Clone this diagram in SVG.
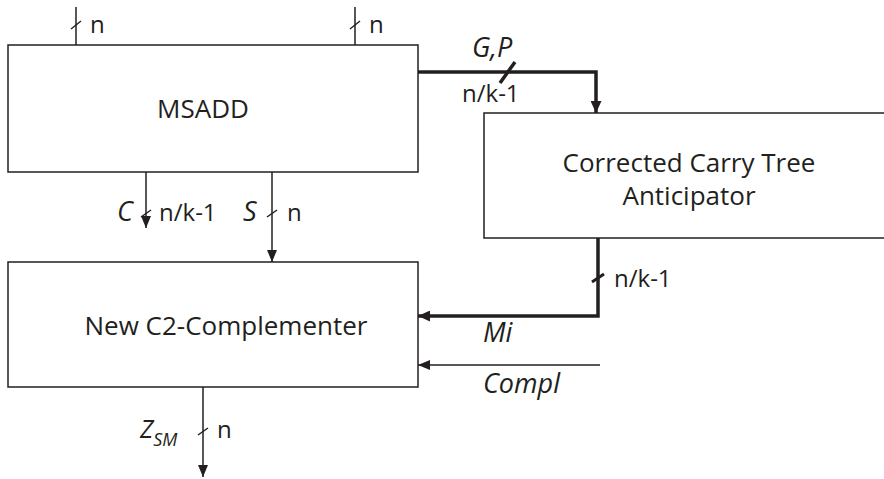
<svg xmlns="http://www.w3.org/2000/svg" width="884" height="479" viewBox="0 0 884 479">
<defs>
<style>
.box{fill:#ffffff;stroke:#231f20;stroke-width:1.5}
.w{fill:none;stroke:#231f20;stroke-width:1.5}
.wt{fill:none;stroke:#231f20;stroke-width:3.5}
.t{font-family:"Open Sans","Liberation Sans",sans-serif;font-size:24px;fill:#231f20}
.b{font-size:26px}
.i{font-style:italic;font-size:27px}
.c{text-anchor:middle}
</style>
<marker id="ah" markerUnits="userSpaceOnUse" markerWidth="12" markerHeight="10" refX="12" refY="5" orient="auto" viewBox="0 0 12 10">
<path d="M0,0 L12,5 L0,10 z" fill="#231f20"/>
</marker>
<marker id="aht" markerUnits="userSpaceOnUse" markerWidth="12" markerHeight="11" refX="12" refY="5.5" orient="auto" viewBox="0 0 12 11">
<path d="M0,0 L12,5.5 L0,11 z" fill="#231f20"/>
</marker>
</defs>
<rect width="884" height="479" fill="#ffffff"/>

<g id="msadd">
<rect class="box" x="8" y="45" width="410" height="127"/>
<text class="t b c" x="203" y="118">MSADD</text>
</g>

<g id="ccta">
<rect class="box" x="484" y="113" width="410" height="125"/>
<text class="t b c" x="689" y="172">Corrected Carry Tree</text>
<text class="t b c" x="689" y="205">Anticipator</text>
</g>

<g id="complementer">
<rect class="box" x="8" y="262" width="410" height="125"/>
<text class="t b c" x="226" y="335">New C2-Complementer</text>
</g>

<g id="connectors">
<!-- top inputs -->
<line class="w" x1="76" y1="7" x2="76" y2="45"/>
<line class="w" x1="71" y1="29" x2="81" y2="21"/>
<text class="t" x="90" y="33">n</text>
<line class="w" x1="355" y1="7" x2="355" y2="45"/>
<line class="w" x1="350" y1="29" x2="360" y2="21"/>
<text class="t" x="369" y="33">n</text>

<!-- G,P -->
<polyline class="wt" points="418,72 596,72 596,113" marker-end="url(#aht)"/>
<line class="wt" x1="500" y1="83" x2="515" y2="62"/>
<text class="t i" x="472" y="57">G,P</text>
<text class="t" x="462" y="102">n/k-1</text>

<!-- C -->
<line class="w" x1="146" y1="172" x2="146" y2="228" marker-end="url(#ah)"/>
<line class="w" x1="141" y1="217" x2="151" y2="210"/>
<text class="t i" x="117" y="221">C</text>
<text class="t" x="159" y="221">n/k-1</text>

<!-- S -->
<line class="w" x1="272" y1="172" x2="272" y2="262" marker-end="url(#ah)"/>
<line class="w" x1="267" y1="217" x2="277" y2="210"/>
<text class="t i" x="243" y="221">S</text>
<text class="t" x="287" y="221">n</text>

<!-- Mi -->
<polyline class="wt" points="598,238 598,316 418,316" marker-end="url(#aht)"/>
<line class="w" x1="592" y1="282" x2="604" y2="274" style="stroke-width:3"/>
<text class="t" x="614" y="287">n/k-1</text>
<text class="t i" x="483" y="342">Mi</text>

<!-- Compl -->
<line class="w" x1="600" y1="365" x2="418" y2="365" marker-end="url(#ah)"/>
<text class="t i" x="483" y="393">Compl</text>

<!-- Z_SM -->
<line class="w" x1="203" y1="387" x2="203" y2="477" marker-end="url(#ah)"/>
<line class="w" x1="198" y1="435" x2="208" y2="428"/>
<text class="t i" x="140" y="438" style="font-size:25px">Z<tspan style="font-size:18px" dy="8">SM</tspan></text>
<text class="t" x="217" y="438">n</text>
</g>
</svg>
